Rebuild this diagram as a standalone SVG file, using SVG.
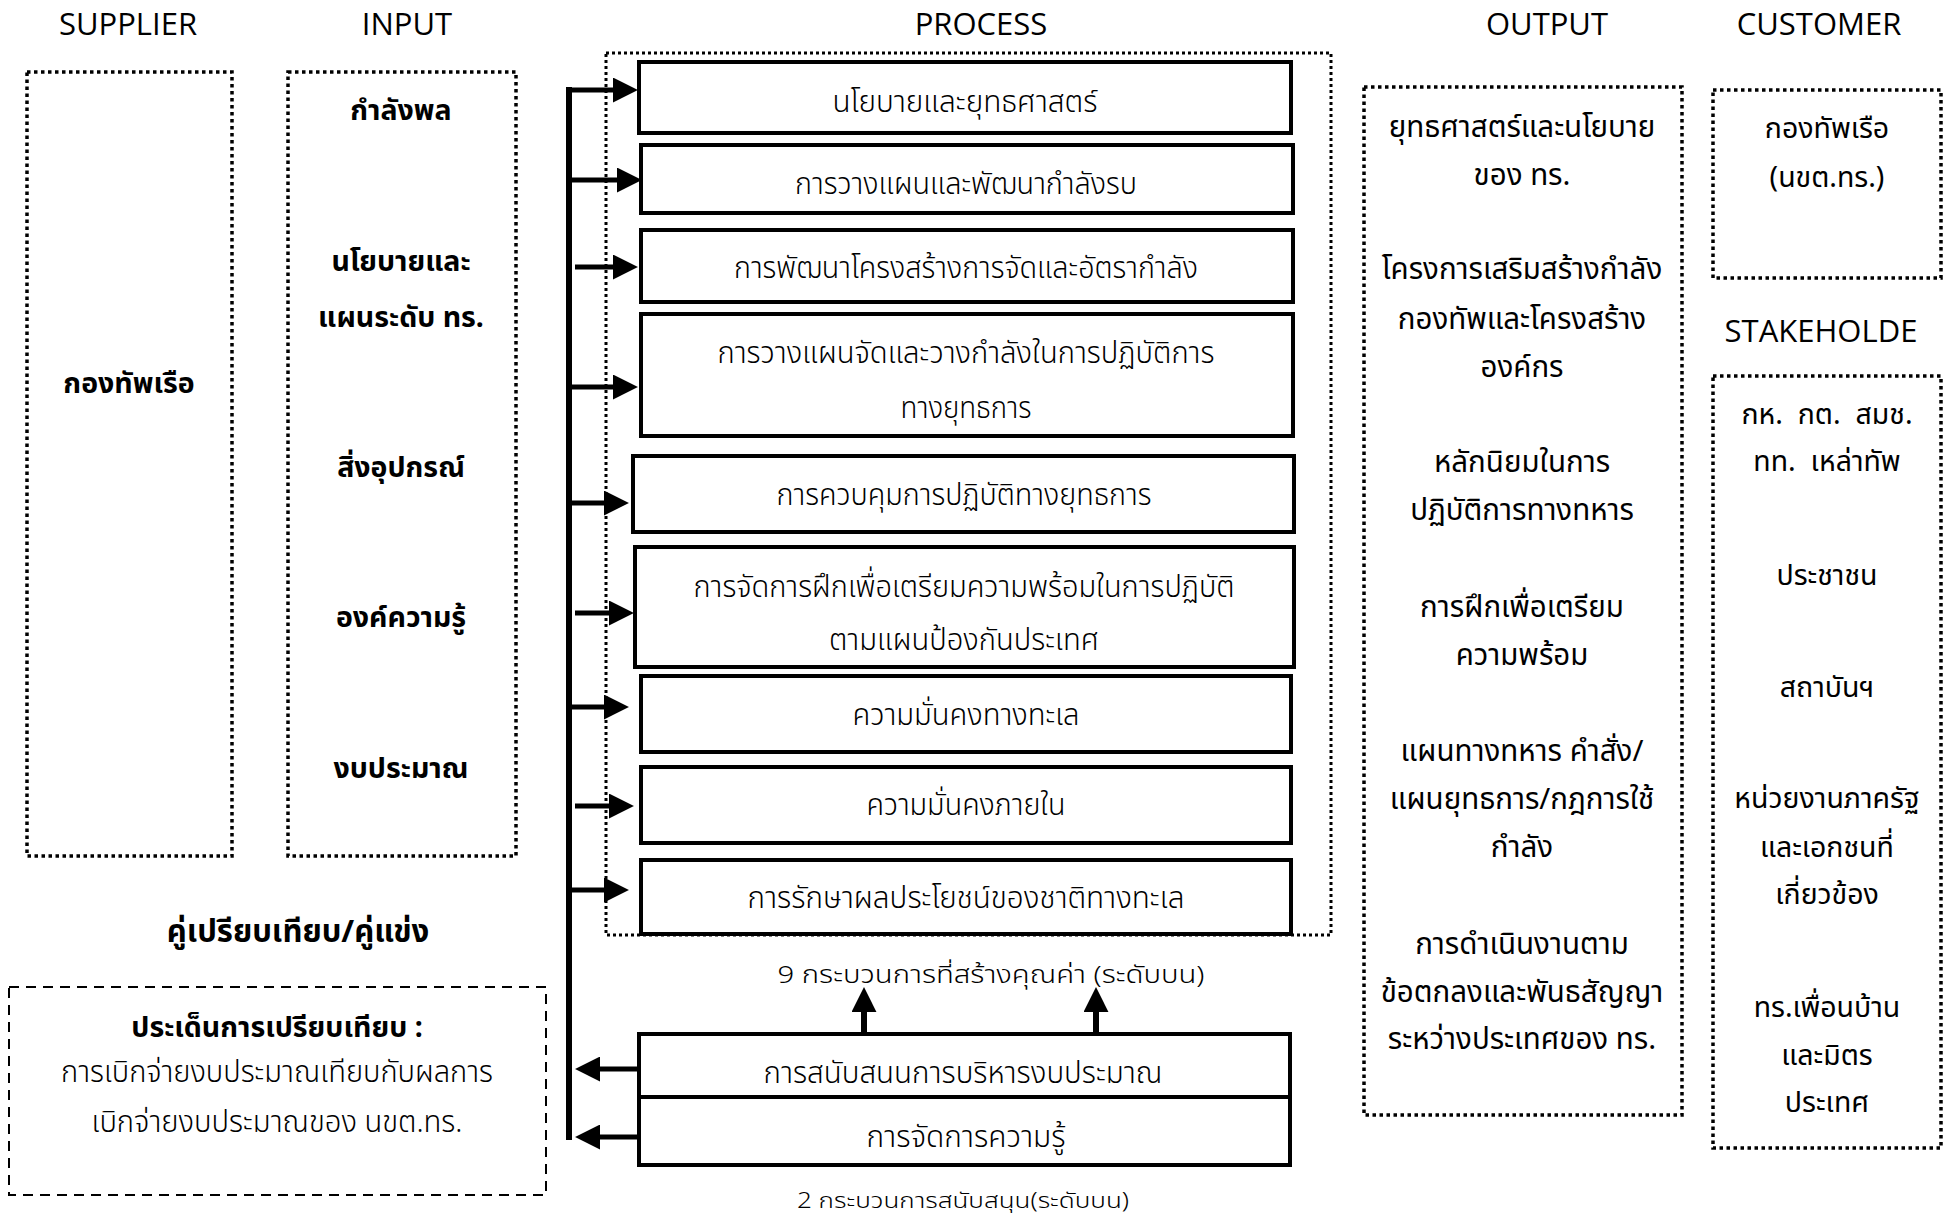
<svg xmlns="http://www.w3.org/2000/svg" width="1944" height="1216" viewBox="0 0 1944 1216">
<style>
.bg{fill:#fff}
.hdr{font-family:'Open Sans','Noto Sans',sans-serif;font-size:31px;text-anchor:middle;fill:#000}
.th{font-family:'Noto Sans','Noto Sans Thai',sans-serif;font-size:29.5px;text-anchor:middle;fill:#000;white-space:pre}
.thc{font-family:'Noto Sans','Noto Sans Thai',sans-serif;font-size:28.5px;text-anchor:middle;fill:#000;white-space:pre}
.thb{font-family:'Noto Sans','Noto Sans Thai',sans-serif;font-size:28.5px;font-weight:700;text-anchor:middle;fill:#000}
.thbl{font-family:'Noto Sans','Noto Sans Thai',sans-serif;font-size:31px;font-weight:700;text-anchor:middle;fill:#000}
.pt{font-family:'Noto Sans Thai','Noto Sans',sans-serif;font-size:31px;font-weight:300;text-anchor:middle;fill:#000}
.lbl{font-family:'Noto Sans Thai','Noto Sans',sans-serif;font-size:24px;font-weight:300;text-anchor:middle;fill:#000}
.lbl2{font-family:'Noto Sans Thai','Noto Sans',sans-serif;font-size:21px;font-weight:300;text-anchor:middle;fill:#000}
.dot{fill:none;stroke:#000;stroke-width:3.5;stroke-dasharray:3.5 3.5}
.dot2{fill:none;stroke:#000;stroke-width:3;stroke-dasharray:3 3}
.dash{fill:none;stroke:#000;stroke-width:2;stroke-dasharray:10 7}
.pbox{fill:#fff;stroke:#000;stroke-width:4}
.conn{stroke:#000;stroke-width:5;fill:none}
.spine{stroke:#000;stroke-width:6;fill:none}
</style>
<defs>
<marker id="ah" viewBox="0 0 24 24" markerWidth="25" markerHeight="25" refX="2" refY="12" orient="auto" markerUnits="userSpaceOnUse">
<path d="M0,0 L24,12 L0,24 Z" fill="#000"/>
</marker>
</defs>
<rect class="bg" x="0" y="0" width="1944" height="1216"/>

<g id="headers">
<text class="hdr" x="128" y="35">SUPPLIER</text>
<text class="hdr" x="407" y="35">INPUT</text>
<text class="hdr" x="981" y="35">PROCESS</text>
<text class="hdr" x="1547" y="35">OUTPUT</text>
<text class="hdr" x="1819" y="35">CUSTOMER</text>
<text class="hdr" x="1821" y="342">STAKEHOLDE</text>
</g>

<g id="supplier">
<rect class="dot" x="27" y="72" width="205" height="784"/>
<text class="thb" x="129" y="393">กองทัพเรือ</text>
</g>

<g id="input">
<rect class="dot" x="288" y="72" width="228" height="784"/>
<text class="thb" x="401" y="120">กำลังพล</text>
<text class="thb" x="401" y="271">นโยบายและ</text>
<text class="thb" x="401" y="327">แผนระดับ ทร.</text>
<text class="thb" x="401" y="477">สิ่งอุปกรณ์</text>
<text class="thb" x="401" y="627">องค์ความรู้</text>
<text class="thb" x="401" y="778">งบประมาณ</text>
</g>

<g id="benchmark">
<text class="thbl" x="298" y="942">คู่เปรียบเทียบ/คู่แข่ง</text>
<rect class="dash" x="9" y="987" width="537" height="208"/>
<text class="thb" x="277" y="1037">ประเด็นการเปรียบเทียบ :</text>
<text class="pt" x="277" y="1082" textLength="432" lengthAdjust="spacingAndGlyphs">การเบิกจ่ายงบประมาณเทียบกับผลการ</text>
<text class="pt" x="277" y="1132" textLength="371" lengthAdjust="spacingAndGlyphs">เบิกจ่ายงบประมาณของ นขต.ทร.</text>
</g>

<g id="process-frame">
<rect class="dot2" x="606" y="53" width="725" height="882"/>
</g>

<g id="p1">
<rect class="pbox" x="639" y="62" width="652" height="71"/>
<text class="pt" x="965" y="112" textLength="265" lengthAdjust="spacingAndGlyphs">นโยบายและยุทธศาสตร์</text>
</g>
<g id="p2">
<rect class="pbox" x="641" y="145" width="652" height="68"/>
<text class="pt" x="966" y="194" textLength="342" lengthAdjust="spacingAndGlyphs">การวางแผนและพัฒนากำลังรบ</text>
</g>
<g id="p3">
<rect class="pbox" x="641" y="230" width="652" height="72"/>
<text class="pt" x="966" y="278" textLength="464" lengthAdjust="spacingAndGlyphs">การพัฒนาโครงสร้างการจัดและอัตรากำลัง</text>
</g>
<g id="p4">
<rect class="pbox" x="641" y="314" width="652" height="122"/>
<text class="pt" x="966" y="363" textLength="497" lengthAdjust="spacingAndGlyphs">การวางแผนจัดและวางกำลังในการปฏิบัติการ</text>
<text class="pt" x="966" y="418" textLength="131" lengthAdjust="spacingAndGlyphs">ทางยุทธการ</text>
</g>
<g id="p5">
<rect class="pbox" x="633" y="456" width="661" height="76"/>
<text class="pt" x="964" y="505" textLength="375" lengthAdjust="spacingAndGlyphs">การควบคุมการปฏิบัติทางยุทธการ</text>
</g>
<g id="p6">
<rect class="pbox" x="635" y="547" width="659" height="120"/>
<text class="pt" x="964" y="597" textLength="541" lengthAdjust="spacingAndGlyphs">การจัดการฝึกเพื่อเตรียมความพร้อมในการปฏิบัติ</text>
<text class="pt" x="964" y="650" textLength="270" lengthAdjust="spacingAndGlyphs">ตามแผนป้องกันประเทศ</text>
</g>
<g id="p7">
<rect class="pbox" x="641" y="676" width="650" height="76"/>
<text class="pt" x="966" y="725" textLength="227" lengthAdjust="spacingAndGlyphs">ความมั่นคงทางทะเล</text>
</g>
<g id="p8">
<rect class="pbox" x="641" y="767" width="650" height="76"/>
<text class="pt" x="966" y="815" textLength="199" lengthAdjust="spacingAndGlyphs">ความมั่นคงภายใน</text>
</g>
<g id="p9">
<rect class="pbox" x="641" y="860" width="650" height="74"/>
<text class="pt" x="966" y="908" textLength="437" lengthAdjust="spacingAndGlyphs">การรักษาผลประโยชน์ของชาติทางทะเล</text>
</g>
<g id="label-core">
<text class="lbl" x="991" y="983" textLength="427" lengthAdjust="spacingAndGlyphs">9 กระบวนการที่สร้างคุณค่า (ระดับบน)</text>
</g>
<g id="s1">
<rect class="pbox" x="639" y="1034" width="651" height="63"/>
<text class="pt" x="963" y="1083" textLength="399" lengthAdjust="spacingAndGlyphs">การสนับสนนการบริหารงบประมาณ</text>
</g>
<g id="s2">
<rect class="pbox" x="639" y="1097" width="651" height="68"/>
<text class="pt" x="966" y="1147" textLength="199" lengthAdjust="spacingAndGlyphs">การจัดการความรู้</text>
</g>
<g id="label-support">
<text class="lbl2" x="963" y="1208" textLength="332" lengthAdjust="spacingAndGlyphs">2 กระบวนการสนับสนุน(ระดับบน)</text>
</g>

<g id="output">
<rect class="dot" x="1364" y="87" width="318" height="1028"/>
<text class="th" x="1522" y="137">ยุทธศาสตร์และนโยบาย</text>
<text class="th" x="1522" y="185">ของ ทร.</text>
<text class="th" x="1522" y="279">โครงการเสริมสร้างกำลัง</text>
<text class="th" x="1522" y="329">กองทัพและโครงสร้าง</text>
<text class="th" x="1522" y="377">องค์กร</text>
<text class="th" x="1522" y="472">หลักนิยมในการ</text>
<text class="th" x="1522" y="520">ปฏิบัติการทางทหาร</text>
<text class="th" x="1522" y="617">การฝึกเพื่อเตรียม</text>
<text class="th" x="1522" y="665">ความพร้อม</text>
<text class="th" x="1522" y="761">แผนทางทหาร คำสั่ง/</text>
<text class="th" x="1522" y="809">แผนยุทธการ/กฎการใช้</text>
<text class="th" x="1522" y="857">กำลัง</text>
<text class="th" x="1522" y="954">การดำเนินงานตาม</text>
<text class="th" x="1522" y="1002">ข้อตกลงและพันธสัญญา</text>
<text class="th" x="1522" y="1049">ระหว่างประเทศของ ทร.</text>
</g>

<g id="customer">
<rect class="dot" x="1713" y="90" width="228" height="188"/>
<text class="thc" x="1827" y="138">กองทัพเรือ</text>
<text class="thc" x="1827" y="187">(นขต.ทร.)</text>
</g>

<g id="stakeholder">
<rect class="dot" x="1713" y="376" width="228" height="772"/>
<text class="thc" x="1827" y="424">กห.  กต.  สมช.</text>
<text class="thc" x="1827" y="471">ทท.  เหล่าทัพ</text>
<text class="thc" x="1827" y="585">ประชาชน</text>
<text class="thc" x="1827" y="697">สถาบันฯ</text>
<text class="thc" x="1827" y="808">หน่วยงานภาครัฐ</text>
<text class="thc" x="1827" y="857">และเอกชนที่</text>
<text class="thc" x="1827" y="904">เกี่ยวข้อง</text>
<text class="thc" x="1827" y="1017">ทร.เพื่อนบ้าน</text>
<text class="thc" x="1827" y="1065">และมิตร</text>
<text class="thc" x="1827" y="1112">ประเทศ</text>
</g>

<g id="connectors">
<path class="spine" d="M569,87 V1140"/>
<line class="conn" x1="566" y1="90" x2="615" y2="90" marker-end="url(#ah)"/>
<line class="conn" x1="569" y1="180" x2="619" y2="180" marker-end="url(#ah)"/>
<line class="conn" x1="575" y1="267" x2="615" y2="267" marker-end="url(#ah)"/>
<line class="conn" x1="569" y1="387" x2="615" y2="387" marker-end="url(#ah)"/>
<line class="conn" x1="569" y1="503" x2="606" y2="503" marker-end="url(#ah)"/>
<line class="conn" x1="575" y1="613" x2="611" y2="613" marker-end="url(#ah)"/>
<line class="conn" x1="569" y1="707" x2="606" y2="707" marker-end="url(#ah)"/>
<line class="conn" x1="575" y1="806" x2="611" y2="806" marker-end="url(#ah)"/>
<line class="conn" x1="569" y1="890" x2="606" y2="890" marker-end="url(#ah)"/>
<line class="conn" x1="639" y1="1069" x2="598" y2="1069" marker-end="url(#ah)"/>
<line class="conn" x1="639" y1="1137" x2="598" y2="1137" marker-end="url(#ah)"/>
<line class="spine" x1="864" y1="1032" x2="864" y2="1010" marker-end="url(#ah)"/>
<line class="spine" x1="1096" y1="1032" x2="1096" y2="1010" marker-end="url(#ah)"/>
</g>
</svg>
